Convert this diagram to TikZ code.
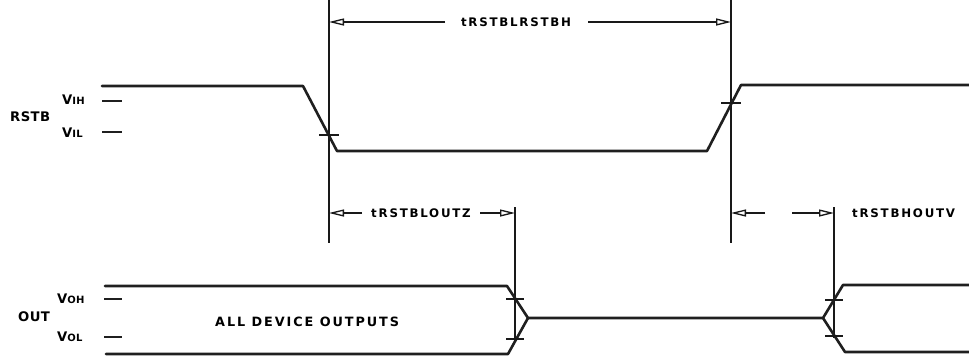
\documentclass[tikz,border=0pt]{standalone}
\usepackage{fontspec}
\setmainfont{DejaVu Sans}
\newfontfamily\lettering[LetterSpace=15]{DejaVu Sans}
\newfontfamily\letteringn[LetterSpace=3]{DejaVu Sans}
\usetikzlibrary{arrows.meta}
\begin{document}
\begin{tikzpicture}[x=1pt,y=-1pt,
  wave/.style={line width=2.6pt, line join=round, line cap=round, black!88},
  refline/.style={line width=1.4pt, black!90},
  tickmark/.style={line width=1.6pt, black!90},
  dimline/.style={line width=1.2pt, black!90, -{Triangle[open,length=15pt,width=7pt,line width=1.3pt]}},
  lbl/.style={font=\letteringn\bfseries\fontsize{13.2}{14}\selectfont, inner sep=0pt},
  biglbl/.style={font=\lettering\bfseries\fontsize{12.8}{13}\selectfont, inner sep=0pt},
  tlbl/.style={font=\lettering\bfseries\fontsize{11.8}{12}\selectfont, inner sep=0pt},
  lev/.style={line width=2.4pt, black!88},
]
\useasboundingbox (0,0) rectangle (969,360);

% ---------- reference (vertical) lines ----------
\coordinate (v1t) at (329,0);   \coordinate (v1b) at (329,243);
\coordinate (v2t) at (731,0);   \coordinate (v2b) at (731,243);
\coordinate (v3t) at (515,207); \coordinate (v3b) at (515,341);
\coordinate (v4t) at (834,207); \coordinate (v4b) at (834,338);
\draw[refline] (v1t) -- (v1b);
\draw[refline] (v2t) -- (v2b);
\draw[refline] (v3t) -- (v3b);
\draw[refline] (v4t) -- (v4b);

% ---------- RSTB waveform ----------
\coordinate (r0) at (102,86);
\coordinate (r1) at (303,86);
\coordinate (r2) at (337,151);
\coordinate (r3) at (707,151);
\coordinate (r4) at (741,85);
\coordinate (r5) at (969,85);
\draw[wave] (r0) -- (r1) -- (r2) -- (r3) -- (r4) -- (r5);
\draw[tickmark] (319,135) -- (339,135);
\draw[tickmark] (721,103) -- (741,103);

% ---------- OUT waveform ----------
\coordinate (o0) at (105,286);
\coordinate (o1) at (507,286);
\coordinate (o2) at (528,318);
\coordinate (o3) at (106,354);
\coordinate (o4) at (508,354);
\coordinate (o5) at (823,318);
\coordinate (o6) at (843,285);
\coordinate (o7) at (969,285);
\coordinate (o8) at (845,352);
\coordinate (o9) at (969,352);
\draw[wave] (o0) -- (o1) -- (o2) -- (o5) -- (o6) -- (o7);
\draw[wave] (o3) -- (o4) -- (o2);
\draw[wave] (o5) -- (o8) -- (o9);
\draw[tickmark] (506,299) -- (524,299);
\draw[tickmark] (506,339) -- (524,339);
\draw[tickmark] (825,300) -- (843,300);
\draw[tickmark] (825,336) -- (843,336);

% ---------- level marks ----------
\draw[lev] (102,101) -- (122,101);
\draw[lev] (102,132) -- (122,132);
\draw[lev] (104,299) -- (122,299);
\draw[lev] (104,337) -- (122,337);

% ---------- labels ----------
\node[lbl, anchor=west] (rstb) at (10,117) {RSTB};
\node[lbl, anchor=west] (vih) at (62,100) {V{\fontsize{10}{10}\selectfont IH}};
\node[lbl, anchor=west] (vil) at (62,133) {V{\fontsize{10}{10}\selectfont IL}};
\node[lbl, anchor=west] (out) at (18,317) {OUT};
\node[lbl, anchor=west] (voh) at (57,299) {V{\fontsize{10}{10}\selectfont OH}};
\node[lbl, anchor=west] (vol) at (57,337) {V{\fontsize{10}{10}\selectfont OL}};
\node[biglbl, anchor=west] (all) at (215,322) {ALL DEVICE OUTPUTS};

% ---------- dimension: tRSTBLRSTBH ----------
\node[tlbl] (d1) at (516,22) {tRSTBLRSTBH};
\coordinate (d1l) at (445,22); \coordinate (d1r) at (588,22);
\draw[dimline] (d1l) -- (v1t |- d1l);
\draw[dimline] (d1r) -- (v2t |- d1r);

% ---------- dimension: tRSTBLOUTZ ----------
\node[tlbl] (d2) at (421,213) {tRSTBLOUTZ};
\coordinate (d2l) at (362,213); \coordinate (d2r) at (480,213);
\draw[dimline] (d2l) -- (v1t |- d2l);
\draw[dimline] (d2r) -- (v3t |- d2r);

% ---------- dimension: tRSTBHOUTV ----------
\node[tlbl, anchor=west] (d3) at (852,213) {tRSTBHOUTV};
\coordinate (d3l) at (765,213); \coordinate (d3r) at (792,213);
\draw[dimline] (d3l) -- (v2t |- d3l);
\draw[dimline] (d3r) -- (v4t |- d3r);
\end{tikzpicture}
\end{document}
